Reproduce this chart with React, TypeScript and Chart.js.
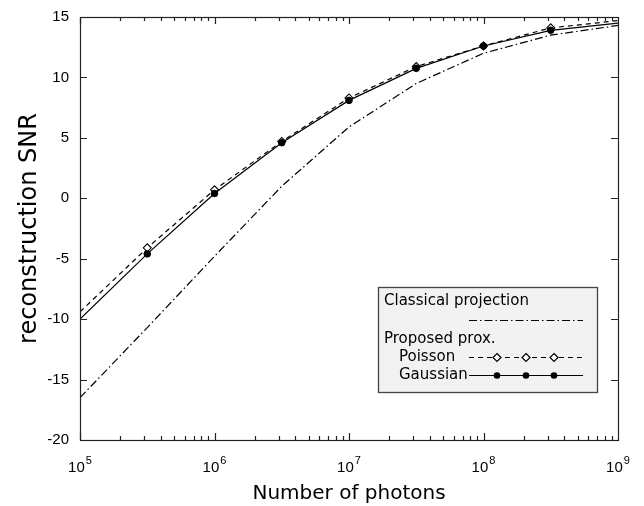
import React, { useEffect, useRef } from "react";
import { Chart, registerables } from "chart.js";

Chart.register(...registerables);

const photons = [1e5, 316228, 1e6, 3162278, 1e7, 31622777, 1e8, 316227766, 1e9];
const classicalSNR = [-16.5, -10.7, -4.8, 1.0, 5.9, 9.5, 12.0, 13.5, 14.3];
const poissonSNR = [-9.4, -4.1, 0.7, 4.7, 8.3, 10.9, 12.6, 14.1, 14.7];
const gaussianSNR = [-10.0, -4.6, 0.4, 4.6, 8.1, 10.75, 12.6, 13.9, 14.5];
const yTicks = [-20, -15, -10, -5, 0, 5, 10, 15];
const xExponents = [5, 6, 7, 8, 9];
const legendTitle = "Classical projection";
const legendGroup = "Proposed prox.";
const legendPoisson = "Poisson";
const legendGaussian = "Gaussian";
const xTitle = "Number of photons";
const yTitle = "reconstruction SNR";

const TICK_FONT = "Liberation Sans, Arial, sans-serif";
const TEXT_FONT = "DejaVu Sans, sans-serif";

const markerRadius = (r: number) => (ctx: any) =>
  ctx.dataIndex === 0 || ctx.dataIndex === photons.length - 1 ? 0 : r;

const framePlugin = {
  id: "frame",
  afterDatasetsDraw(chart: any) {
    const { ctx, chartArea: a, scales } = chart;
    const xs = scales.x;
    const ys = scales.y;
    ctx.save();
    ctx.strokeStyle = "#222";
    ctx.lineWidth = 1.2;
    ctx.setLineDash([]);
    ctx.beginPath();
    for (let k = xExponents[0]; k < xExponents[xExponents.length - 1]; k++) {
      for (let m = 1; m <= 9; m++) {
        const px = Math.round(xs.getPixelForValue(m * Math.pow(10, k))) + 0.5;
        const len = m === 1 ? 7 : 4;
        ctx.moveTo(px, a.bottom);
        ctx.lineTo(px, a.bottom - len);
        ctx.moveTo(px, a.top);
        ctx.lineTo(px, a.top + len);
      }
    }
    yTicks.forEach((v) => {
      const py = Math.round(ys.getPixelForValue(v)) + 0.5;
      ctx.moveTo(a.left, py);
      ctx.lineTo(a.left + 7, py);
      ctx.moveTo(a.right, py);
      ctx.lineTo(a.right - 7, py);
    });
    ctx.stroke();
    ctx.strokeRect(a.left + 0.5, a.top + 0.5, a.right - a.left, a.bottom - a.top);

    ctx.fillStyle = "#000";
    ctx.textBaseline = "alphabetic";
    xExponents.forEach((e) => {
      const px = xs.getPixelForValue(Math.pow(10, e));
      ctx.font = `15px ${TICK_FONT}`;
      const baseW = ctx.measureText("10").width;
      ctx.font = `11px ${TICK_FONT}`;
      const expW = ctx.measureText(String(e)).width;
      const total = baseW + expW + 1;
      const x0 = px - total / 2;
      ctx.font = `15px ${TICK_FONT}`;
      ctx.textAlign = "left";
      ctx.fillText("10", x0, 472);
      ctx.font = `11px ${TICK_FONT}`;
      ctx.fillText(String(e), x0 + baseW + 1, 464);
    });

    const L = 378, T = 287, R = 597, B = 392;
    ctx.fillStyle = "#f2f2f2";
    ctx.fillRect(L, T, R - L, B - T);
    ctx.strokeStyle = "#444";
    ctx.lineWidth = 1.3;
    ctx.strokeRect(L + 0.5, T + 0.5, R - L, B - T);
    ctx.fillStyle = "#000";
    ctx.font = `15px ${TEXT_FONT}`;
    ctx.textAlign = "left";
    ctx.textBaseline = "middle";
    ctx.fillText(legendTitle, 384, 301);
    ctx.fillText(legendGroup, 384, 339);
    ctx.fillText(legendPoisson, 399, 357);
    ctx.fillText(legendGaussian, 399, 375);

    const sx0 = 469, sx1 = 583;
    const mk = [497, 526, 554];
    ctx.strokeStyle = "#000";
    ctx.lineWidth = 1.2;
    ctx.setLineDash([8, 3, 1.5, 3]);
    ctx.beginPath();
    ctx.moveTo(sx0, 320.5);
    ctx.lineTo(sx1, 320.5);
    ctx.stroke();
    ctx.setLineDash([5, 4]);
    ctx.beginPath();
    ctx.moveTo(sx0, 357.5);
    ctx.lineTo(sx1, 357.5);
    ctx.stroke();
    ctx.setLineDash([]);
    mk.forEach((x) => {
      ctx.beginPath();
      ctx.moveTo(x, 357.5 - 4);
      ctx.lineTo(x + 4, 357.5);
      ctx.lineTo(x, 357.5 + 4);
      ctx.lineTo(x - 4, 357.5);
      ctx.closePath();
      ctx.fillStyle = "#fff";
      ctx.fill();
      ctx.stroke();
    });
    ctx.beginPath();
    ctx.moveTo(sx0, 375.5);
    ctx.lineTo(sx1, 375.5);
    ctx.stroke();
    ctx.fillStyle = "#000";
    mk.forEach((x) => {
      ctx.beginPath();
      ctx.arc(x, 375.5, 3.3, 0, Math.PI * 2);
      ctx.fill();
    });
    ctx.restore();
  },
};

export default function App() {
  const ref = useRef<HTMLCanvasElement | null>(null);
  useEffect(() => {
    if (!ref.current) return;
    const chart = new Chart(ref.current, {
      type: "line",
      data: {
        datasets: [
          {
            label: legendGaussian,
            data: photons.map((x, i) => ({ x, y: gaussianSNR[i] })),
            borderColor: "#000",
            borderWidth: 1.2,
            pointStyle: "circle",
            pointRadius: markerRadius(3.3),
            pointBackgroundColor: "#000",
            pointBorderColor: "#000",
            pointBorderWidth: 1,
            tension: 0,
            order: 0,
          },
          {
            label: legendPoisson,
            data: photons.map((x, i) => ({ x, y: poissonSNR[i] })),
            borderColor: "#000",
            borderWidth: 1.2,
            borderDash: [5, 4],
            pointStyle: "rectRot",
            pointRadius: markerRadius(4),
            pointBackgroundColor: "#fff",
            pointBorderColor: "#000",
            pointBorderWidth: 1.1,
            tension: 0,
            order: 1,
          },
          {
            label: legendTitle,
            data: photons.map((x, i) => ({ x, y: classicalSNR[i] })),
            borderColor: "#000",
            borderWidth: 1.2,
            borderDash: [8, 3, 1.5, 3],
            pointRadius: 0,
            tension: 0,
            order: 2,
          },
        ],
      },
      options: {
        animation: false,
        responsive: false,
        devicePixelRatio: 1,
        layout: { padding: { left: 0, right: 26, top: 17, bottom: 0 } },
        plugins: {
          legend: { display: false },
          tooltip: { enabled: false },
        },
        scales: {
          x: {
            type: "logarithmic",
            min: 1e5,
            max: 1e9,
            grid: { display: false },
            border: { display: false },
            ticks: { display: false },
            title: {
              display: true,
              text: xTitle,
              color: "#000",
              font: { family: TEXT_FONT, size: 20 },
              padding: { top: 0, bottom: 0 },
            },
            afterFit: (s: any) => {
              s.height = 66;
            },
          },
          y: {
            type: "linear",
            min: -20,
            max: 15,
            grid: { display: false },
            border: { display: false },
            ticks: {
              stepSize: 5,
              color: "#000",
              font: { family: TICK_FONT, size: 15 },
              padding: 3,
            },
            title: {
              display: true,
              text: yTitle,
              color: "#000",
              font: { family: TEXT_FONT, size: 24 },
              padding: { top: 15, bottom: 0 },
            },
            afterFit: (s: any) => {
              s.width = 80;
            },
          },
        },
      },
      plugins: [framePlugin],
    });
    return () => chart.destroy();
  }, []);
  return (
    <div style={{ position: "absolute", left: 0, top: 0, width: 644, height: 506, background: "#fff" }}>
      <canvas ref={ref} width={644} height={506} />
    </div>
  );
}
